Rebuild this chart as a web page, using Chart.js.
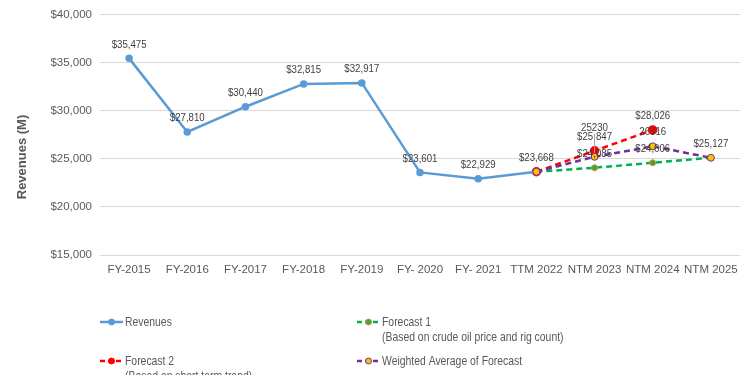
<!DOCTYPE html>
<html>
<head>
<meta charset="utf-8">
<script src="https://cdn.jsdelivr.net/npm/chart.js@4.4.1/dist/chart.umd.min.js"></script>
<style>
  html, body { margin: 0; padding: 0; background: #fff; }
  #wrap { width: 750px; height: 375px; position: relative; }
</style>
</head>
<body>
<div id="wrap"><canvas id="chart_revenues"></canvas></div>
<script>
// categories and values
var categories = ['FY-2015', 'FY-2016', 'FY-2017', 'FY-2018', 'FY-2019', 'FY- 2020', 'FY- 2021', 'TTM 2022', 'NTM 2023', 'NTM 2024', 'NTM 2025'];
var revenues  = [35475, 27810, 30440, 32815, 32917, 23601, 22929, 23668, null, null, null];
var forecast1 = [null, null, null, null, null, null, null, 23668, 24085, 24606, 25127];
var forecast2 = [null, null, null, null, null, null, null, 23668, 25847, 28026, null];
var weighted  = [null, null, null, null, null, null, null, 23668, 25230, 26316, 25127];

// data label texts as printed
var revenueLabels   = ['$35,475', '$27,810', '$30,440', '$32,815', '$32,917', '$23,601', '$22,929', '$23,668', '', '', ''];
var forecast1Labels = ['', '', '', '', '', '', '', '', '$24,085', '$24,606', ''];
var forecast2Labels = ['', '', '', '', '', '', '', '', '$25,847', '$28,026', ''];
var weightedLabels  = ['', '', '', '', '', '', '', '', '25230', '26316', '$25,127'];

var yTicks = [15000, 20000, 25000, 30000, 35000, 40000];

var TEXT = '#595959';
var SANS = '"Liberation Sans", Arial, sans-serif';

function money(v) {
  return '$' + v.toLocaleString('en-US');
}

// narrow text: no Arial Narrow here, so squeeze Liberation Sans
function narrowText(ctx, txt, x, y, squeeze) {
  ctx.save();
  ctx.translate(x, y);
  ctx.scale(squeeze, 1);
  ctx.fillText(txt, 0, 0);
  ctx.restore();
}

var legendRows = [
  { ds: 0, x: 100, y: 322, lines: ['Revenues'] },
  { ds: 1, x: 357, y: 322, lines: ['Forecast 1', '(Based on crude oil price and rig count)'] },
  { ds: 2, x: 100, y: 361, lines: ['Forecast 2', '(Based on short term trend)'] },
  { ds: 3, x: 357, y: 361, lines: ['Weighted Average of Forecast'] }
];

var chart_revenues = new Chart(document.getElementById('chart_revenues'), {
  type: 'line',
  data: {
    labels: categories,
    datasets: [
      {
        label: 'Revenues',
        data: revenues,
        valueLabels: revenueLabels,
        borderColor: '#5b9bd5',
        backgroundColor: '#5b9bd5',
        borderWidth: 2.5,
        pointRadius: 2.5,
        pointBackgroundColor: '#5b9bd5',
        pointBorderColor: '#5b9bd5',
        order: 1
      },
      {
        label: 'Forecast 1',
        data: forecast1,
        valueLabels: forecast1Labels,
        borderColor: '#00b050',
        backgroundColor: '#00b050',
        borderWidth: 2.5,
        borderDash: [6, 4],
        pointRadius: 3,
        pointBackgroundColor: '#3aa648',
        pointBorderColor: '#e7892c',
        pointBorderWidth: 1,
        order: 3
      },
      {
        label: 'Forecast 2',
        data: forecast2,
        valueLabels: forecast2Labels,
        borderColor: '#ff0000',
        backgroundColor: '#ff0000',
        borderWidth: 2.5,
        borderDash: [6, 4],
        pointRadius: 3.5,
        pointBackgroundColor: '#ff0000',
        pointBorderColor: '#ff0000',
        order: 2
      },
      {
        label: 'Weighted Average of Forecast',
        data: weighted,
        valueLabels: weightedLabels,
        borderColor: '#7030a0',
        backgroundColor: '#7030a0',
        borderWidth: 2.5,
        borderDash: [6, 4],
        pointRadius: 3.5,
        pointBackgroundColor: '#ffc000',
        pointBorderColor: '#7030a0',
        pointBorderWidth: 1,
        order: 0
      }
    ]
  },
  options: {
    animation: false,
    responsive: true,
    maintainAspectRatio: false,
    spanGaps: false,
    layout: {
      padding: { left: 0, right: 10, top: 12, bottom: 90 }
    },
    plugins: {
      legend: { display: false },
      tooltip: { enabled: false }
    },
    scales: {
      x: {
        offset: true,
        grid: { display: false },
        border: { display: false },
        ticks: {
          color: TEXT,
          font: { family: SANS, size: 11.5 },
          maxRotation: 0,
          autoSkip: false,
          padding: 0
        },
        afterFit: function (scale) { scale.height = 30; }
      },
      y: {
        min: 15000,
        max: 40000,
        afterBuildTicks: function (scale) {
          scale.ticks = yTicks.map(function (v) { return { value: v }; });
        },
        grid: { color: '#d9d9d9', lineWidth: 1, drawTicks: false },
        border: { display: false },
        ticks: {
          color: TEXT,
          font: { family: SANS, size: 11.5 },
          padding: 8,
          callback: function (v) { return money(v); }
        },
        afterFit: function (scale) { scale.width = 100; }
      }
    }
  },
  plugins: [{
    id: 'whiteBack',
    beforeDraw: function (chart) {
      var ctx = chart.ctx;
      ctx.save();
      ctx.fillStyle = 'white';
      ctx.fillRect(0, 0, chart.width, chart.height);
      ctx.restore();
    }
  }, {
    id: 'valueLabels',
    afterDatasetsDraw: function (chart) {
      var ctx = chart.ctx;
      ctx.save();
      ctx.font = '11.5px ' + SANS;
      ctx.fillStyle = '#404040';
      ctx.textAlign = 'center';
      ctx.textBaseline = 'middle';
      chart.data.datasets.forEach(function (ds, di) {
        var meta = chart.getDatasetMeta(di);
        ds.valueLabels.forEach(function (txt, i) {
          if (!txt) return;
          var pt = meta.data[i];
          var lift = 14;
          if (di === 3 && i === 8) {
            lift = 29;
            ctx.strokeStyle = '#a6a6a6';
            ctx.lineWidth = 1;
            ctx.beginPath();
            ctx.moveTo(pt.x, pt.y - lift + 6);
            ctx.lineTo(pt.x, pt.y - 4);
            ctx.stroke();
          }
          narrowText(ctx, txt, pt.x, pt.y - lift, 0.84);
        });
      });
      ctx.restore();
    }
  }, {
    id: 'sideTitleAndLegend',
    afterDraw: function (chart) {
      var ctx = chart.ctx;
      ctx.save();
      // y axis title
      ctx.translate(22, 157);
      ctx.rotate(-Math.PI / 2);
      ctx.font = 'bold 13px ' + SANS;
      ctx.fillStyle = TEXT;
      ctx.textAlign = 'center';
      ctx.textBaseline = 'middle';
      ctx.fillText('Revenues (M)', 0, 0);
      ctx.restore();

      // two-column legend
      legendRows.forEach(function (row) {
        var ds = chart.data.datasets[row.ds];
        ctx.save();
        ctx.strokeStyle = ds.borderColor;
        ctx.lineWidth = 2.5;
        ctx.setLineDash(ds.borderDash ? [5, 3] : []);
        ctx.beginPath();
        ctx.moveTo(row.x, row.y);
        ctx.lineTo(row.x + 23, row.y);
        ctx.stroke();
        ctx.setLineDash([]);
        ctx.beginPath();
        ctx.arc(row.x + 11.5, row.y, 3, 0, Math.PI * 2);
        ctx.fillStyle = ds.pointBackgroundColor;
        ctx.fill();
        ctx.strokeStyle = ds.pointBorderColor;
        ctx.lineWidth = 1;
        ctx.stroke();
        ctx.font = '13px ' + SANS;
        ctx.fillStyle = TEXT;
        ctx.textAlign = 'left';
        ctx.textBaseline = 'middle';
        row.lines.forEach(function (line, li) {
          narrowText(ctx, line, row.x + 25, row.y + li * 15.5, 0.8);
        });
        ctx.restore();
      });
    }
  }]
});
</script>
</body>
</html>
